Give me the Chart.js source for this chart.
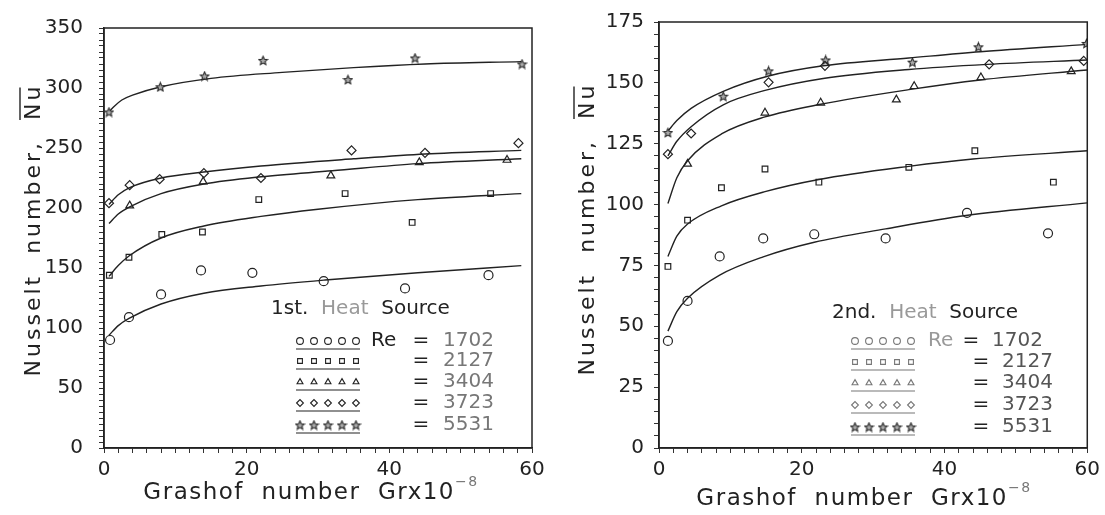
<!DOCTYPE html>
<html>
<head>
<meta charset="utf-8">
<script src="https://cdn.jsdelivr.net/npm/chart.js@4/dist/chart.umd.min.js"></script>
<style>
  html, body { margin: 0; padding: 0; background: #fff; }
  #wrap { position: relative; width: 1105px; height: 515px; }
  .panel { position: absolute; top: 0; }
  #p1 { left: 0; }
  #p2 { left: 552px; }
</style>
</head>
<body>
<div id="wrap">
  <div class="panel" id="p1"><canvas id="c1" width="552" height="515"></canvas></div>
  <div class="panel" id="p2"><canvas id="c2" width="553" height="515"></canvas></div>
</div>
<script>
// Reynolds numbers of the five runs
const reynolds = ['1702', '2127', '3404', '3723', '5531'];

// 1st heat source : measured points [Gr x 10^-8, Nu]
const src1_1702 = [[0.85, 90], [3.5, 109], [8, 128], [13.6, 148], [20.8, 146], [30.8, 139], [42.2, 133], [53.9, 144]];
const src1_2127 = [[0.75, 144], [3.5, 159], [8.1, 178], [13.8, 180], [21.7, 207], [33.8, 212], [43.2, 188], [54.2, 212]];
const src1_3404 = [[3.6, 202], [13.9, 222], [31.8, 227], [44.2, 238], [56.5, 240]];
const src1_3723 = [[0.7, 204], [3.6, 219], [7.8, 224], [14, 229], [22, 225], [34.7, 248], [45, 246], [58.1, 254]];
const src1_5531 = [[0.7, 280], [7.9, 301], [14.1, 310], [22.3, 323], [34.2, 307], [43.6, 325], [58.6, 320]];

// 1st heat source : fitted curves
const fit1_1702 = [[0.7, 94], [2, 102], [3.5, 108], [8, 120], [14, 129], [22, 135], [31, 140], [44, 146], [58.5, 152]];
const fit1_2127 = [[0.7, 143], [2, 152], [3.5, 160], [8, 175], [14, 185], [22, 193], [30, 199], [44, 207], [58.5, 212]];
const fit1_3404 = [[0.7, 187], [2, 195], [3.6, 201], [8, 212], [14, 220], [22, 226], [32, 231], [44, 237], [58.5, 241]];
const fit1_3723 = [[0.7, 203], [2, 211], [3.6, 217], [8, 225], [14, 230], [22, 235], [35, 241], [45, 245], [58.5, 248]];
const fit1_5531 = [[0.7, 280], [1.3, 284], [2.5, 290], [4, 294], [8, 301], [15, 308], [25, 313], [35, 317], [45, 320], [58.5, 322]];

// 2nd heat source : measured points
const src2_1702 = [[1.25, 44], [4, 60.4], [8.5, 78.7], [14.6, 86.1], [21.75, 87.8], [31.75, 86.1], [43.15, 96.6], [54.5, 88.2]];
const src2_2127 = [[1.25, 74.6], [4, 93.6], [8.75, 106.9], [14.85, 114.6], [22.4, 109.2], [35, 115.3], [44.25, 122.1], [55.25, 109.2]];
const src2_3404 = [[4, 116.7], [14.85, 137.7], [22.65, 141.8], [33.25, 143.1], [35.75, 148.6], [45.1, 152.2], [57.75, 154.7]];
const src2_3723 = [[1.25, 120.7], [4.5, 129.2], [15.35, 150.2], [23.25, 157], [46.25, 157.6], [59.5, 159]];
const src2_5531 = [[1.25, 129.6], [9, 144.5], [15.35, 154.9], [23.35, 159.4], [35.5, 158.5], [44.75, 164.8], [59.9, 166.2]];

// 2nd heat source : fitted curves
const fit2_1702 = [[1.25, 48], [2.5, 56], [4, 61.5], [8.5, 71], [14.6, 78.5], [21.75, 84.5], [31.75, 90], [43, 95.5], [60, 100.7]];
const fit2_2127 = [[1.25, 78.7], [2.5, 87], [4, 92], [8.75, 99.5], [14.85, 105.3], [22.4, 110.3], [35, 115.7], [44, 118.7], [60, 122.1]];
const fit2_3404 = [[1.25, 100.4], [2.5, 111], [4, 118], [8.75, 129], [14.85, 136], [22.65, 141.2], [35, 147.2], [45, 151.2], [60, 155.3]];
const fit2_3723 = [[1.25, 120], [2.5, 126], [4.5, 132], [9, 141], [15, 147], [23, 151.8], [35, 155.5], [46, 157.6], [60, 159.4]];
const fit2_5531 = [[1.25, 130.2], [2.5, 134.5], [4.5, 139.5], [9, 146.5], [15.35, 152.8], [23, 157], [35, 160.2], [45, 162.8], [60, 165.8]];

const INK = '#222';
const FONT = '"DejaVu Sans", sans-serif';

// small star marker for Re = 5531
function makeStar(size, outer, inner) {
  const c = document.createElement('canvas');
  c.width = size; c.height = size;
  const g = c.getContext('2d');
  const m = size / 2;
  g.beginPath();
  for (let i = 0; i < 10; i++) {
    const r = i % 2 ? inner : outer;
    const a = -Math.PI / 2 + i * Math.PI / 5;
    g.lineTo(m + r * Math.cos(a), m + 0.5 + r * Math.sin(a));
  }
  g.closePath();
  g.fillStyle = '#aaa';
  g.fill();
  g.strokeStyle = INK;
  g.lineWidth = 1.1;
  g.stroke();
  return c;
}
const starImg = makeStar(11, 4.6, 2.1);
const markers = ['circle', 'rect', 'triangle', 'rectRot', starImg];

function toXY(arr) {
  return arr.map(p => ({x: p[0], y: p[1]}));
}

function buildSets(points, fits) {
  const sets = [];
  reynolds.forEach((re, i) => {
    sets.push({
      label: 'Re = ' + re,
      data: toXY(points[i]),
      showLine: false,
      pointStyle: markers[i],
      pointRadius: i == 1 ? 4 : 4.5,
      borderColor: INK,
      backgroundColor: 'rgba(0,0,0,0)',
      borderWidth: 1.2
    });
    sets.push({
      label: 'fit ' + re,
      data: toXY(fits[i]),
      showLine: true,
      pointRadius: 0,
      borderColor: INK,
      borderWidth: 1.4,
      cubicInterpolationMode: 'monotone',
      fill: false
    });
  });
  return sets;
}

// box, axis titles and the legend written inside the plot
const overlay = {
  id: 'overlay',
  afterDraw(chart, args, o) {
    const ctx = chart.ctx;
    const a = chart.chartArea;
    ctx.save();
    ctx.strokeStyle = INK;
    ctx.lineWidth = 1.5;
    ctx.strokeRect(a.left, a.top, a.right - a.left, a.bottom - a.top);

    // y title, rotated
    ctx.save();
    ctx.fillStyle = INK;
    ctx.font = '22px ' + FONT;
    ctx.letterSpacing = '3px';
    ctx.translate(o.yTitle[0], o.yTitle[1]);
    ctx.rotate(-Math.PI / 2);
    const t1 = 'Nusselt  number,  ';
    const w1 = ctx.measureText(t1).width;
    const w2 = ctx.measureText('Nu').width;
    const x0 = -(w1 + w2) / 2;
    ctx.textAlign = 'left';
    ctx.textBaseline = 'middle';
    ctx.fillText(t1, x0, 0);
    ctx.fillText('Nu', x0 + w1, 0);
    ctx.lineWidth = 1.4;
    ctx.beginPath();
    ctx.moveTo(x0 + w1, -14);
    ctx.lineTo(x0 + w1 + w2 - 4, -14);
    ctx.stroke();
    ctx.restore();

    // x title with superscript
    ctx.save();
    ctx.fillStyle = INK;
    ctx.textAlign = 'left';
    ctx.textBaseline = 'alphabetic';
    ctx.font = '23px ' + FONT;
    ctx.letterSpacing = '1.5px';
    const main = 'Grashof  number  Grx10';
    const wm = ctx.measureText(main).width;
    ctx.font = '14px ' + FONT;
    const sup = '\u22128';
    const ws = ctx.measureText(sup).width;
    const xs = o.xTitle[0] - (wm + ws) / 2;
    ctx.font = '23px ' + FONT;
    ctx.fillText(main, xs, o.xTitle[1]);
    ctx.font = '14px ' + FONT;
    ctx.fillStyle = '#777';
    ctx.fillText(sup, xs + wm, o.xTitle[1] - 13);
    ctx.restore();

    // heading and legend rows
    const L = o.legend;
    ctx.save();
    ctx.letterSpacing = '0px';
    ctx.textBaseline = 'middle';
    ctx.font = '20px ' + FONT;
    ctx.fillStyle = INK;
    ctx.textAlign = 'left';
    let hx = L.head[0];
    const parts = [[L.head[2] + '  ', INK], ['Heat  ', '#999'], ['Source', INK]];
    parts.forEach(p => {
      ctx.fillStyle = p[1];
      ctx.fillText(p[0], hx, L.head[1]);
      hx += ctx.measureText(p[0]).width;
    });

    reynolds.forEach((re, i) => {
      const y = L.rows[i];
      ctx.strokeStyle = L.sampleColor;
      ctx.fillStyle = 'rgba(0,0,0,0)';
      ctx.lineWidth = 1.1;
      for (let k = 0; k < 5; k++) {
        Chart.helpers.drawPoint(ctx, {pointStyle: markers[i], radius: 3.4, rotation: 0, borderWidth: 1.1}, L.x0 + k * L.dx, y);
      }
      ctx.beginPath();
      ctx.moveTo(L.x0 - 4, y + 8);
      ctx.lineTo(L.x0 + 4 * L.dx + 4, y + 8);
      ctx.stroke();

      ctx.font = '20px ' + FONT;
      if (i == 0) {
        ctx.fillStyle = L.reColor;
        ctx.textAlign = 'left';
        ctx.fillText('Re', L.reX, y);
        ctx.textAlign = 'center';
        ctx.fillStyle = INK;
        ctx.fillText('=', L.eq0, y);
        ctx.textAlign = 'left';
        ctx.fillStyle = L.numColor;
        ctx.fillText(re, L.num0, y);
      } else {
        ctx.textAlign = 'center';
        ctx.fillStyle = INK;
        ctx.fillText('=', L.eqX, y);
        ctx.textAlign = 'left';
        ctx.fillStyle = L.numColor;
        ctx.fillText(re, L.numX, y);
      }
    });
    ctx.restore();
    ctx.restore();
  }
};

function makeChart(id, sets, o) {
  return new Chart(document.getElementById(id), {
    type: 'scatter',
    data: {datasets: sets},
    options: {
      responsive: false,
      animation: false,
      layout: {padding: o.padding},
      plugins: {
        legend: {display: false},
        tooltip: {enabled: false},
        overlay: o
      },
      scales: {
        x: {
          type: 'linear',
          min: 0, max: 60,
          afterFit(s) { s.height = 57; },
          border: {display: true, color: INK, width: 1.5},
          grid: {drawOnChartArea: false, drawTicks: true, tickLength: 5, color: '#333'},
          ticks: {
            stepSize: 2, autoSkip: false, maxRotation: 0, padding: 5,
            color: INK, font: {family: FONT, size: 20},
            callback: v => (v % 20 === 0 ? String(v) : '')
          }
        },
        y: {
          type: 'linear',
          min: 0, max: o.yMax,
          afterFit(s) { s.width = o.yWidth; },
          border: {display: true, color: INK, width: 1.5},
          grid: {drawOnChartArea: false, drawTicks: true, tickLength: 5, color: '#333'},
          ticks: {
            stepSize: 5, autoSkip: false, padding: o.tickPad,
            color: INK, font: {family: FONT, size: 20},
            callback: v => (v % o.yMajor === 0 ? String(v) : '')
          }
        }
      }
    },
    plugins: [overlay]
  });
}

makeChart('c1',
  buildSets([src1_1702, src1_2127, src1_3404, src1_3723, src1_5531],
            [fit1_1702, fit1_2127, fit1_3404, fit1_3723, fit1_5531]),
  {
    padding: {left: 10, right: 20, top: 20, bottom: 10},
    yWidth: 94, yMax: 350, yMajor: 50, tickPad: 16,
    yTitle: [34, 230], xTitle: [311, 499],
    legend: {
      head: [271, 309, '1st.'], rows: [341, 361, 382, 403, 425],
      x0: 300, dx: 14, reX: 371, eq0: 421, num0: 443, eqX: 421, numX: 443,
      sampleColor: INK, reColor: INK, numColor: '#777'
    }
  });

makeChart('c2',
  buildSets([src2_1702, src2_2127, src2_3404, src2_3723, src2_5531],
            [fit2_1702, fit2_2127, fit2_3404, fit2_3723, fit2_5531]),
  {
    padding: {left: 10, right: 17, top: 19, bottom: 10},
    yWidth: 97, yMax: 175, yMajor: 25, tickPad: 10,
    yTitle: [36, 229], xTitle: [312, 505],
    legend: {
      head: [280, 313, '2nd.'], rows: [341, 362, 383, 405, 427],
      x0: 303, dx: 14, reX: 376, eq0: 419, num0: 440, eqX: 429, numX: 450,
      sampleColor: '#777', reColor: '#999', numColor: '#555'
    }
  });
</script>
</body>
</html>
